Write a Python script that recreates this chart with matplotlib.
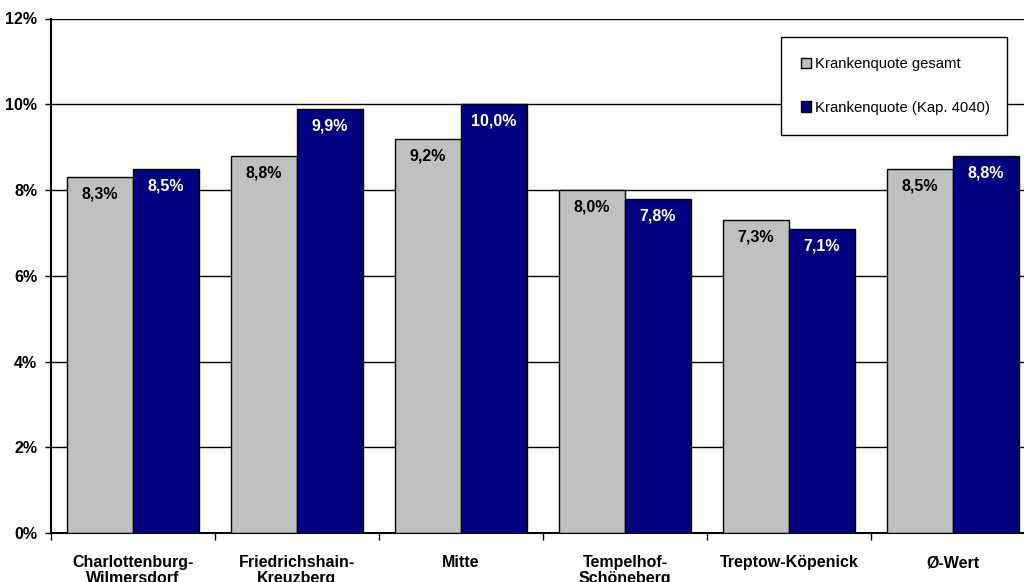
import matplotlib
matplotlib.use("Agg")
import matplotlib.pyplot as plt
from matplotlib.patches import Patch
from matplotlib.ticker import FixedLocator, FuncFormatter

plt.rcParams['font.family'] = ['Liberation Sans', 'DejaVu Sans']

categories = ["Charlottenburg-\nWilmersdorf", "Friedrichshain-\nKreuzberg", "Mitte",
              "Tempelhof-\nSchöneberg", "Treptow-Köpenick", "Ø-Wert"]
quote_gesamt = [8.3, 8.8, 9.2, 8.0, 7.3, 8.5]
quote_kap4040 = [8.5, 9.9, 10.0, 7.8, 7.1, 8.8]
series_names = ["Krankenquote gesamt", "Krankenquote (Kap. 4040)"]
y_ticks = [0, 2, 4, 6, 8, 10, 12]

GRAY = "#c0c0c0"
NAVY = "#000080"

W, H = 1024, 582
fig = plt.figure(figsize=(W / 100, H / 100), dpi=100)
left, right_px, top_px, bottom_px = 51, 1035, 18.5, 533
ax = fig.add_axes([left / W, (H - bottom_px) / H, (right_px - left) / W, (bottom_px - top_px) / H])

bw = 66 / 164
x = list(range(len(categories)))
b1 = ax.bar([i - bw / 2 for i in x], quote_gesamt, width=bw, color=GRAY,
            edgecolor="black", linewidth=1.0, zorder=3)
b2 = ax.bar([i + bw / 2 for i in x], quote_kap4040, width=bw, color=NAVY,
            edgecolor="black", linewidth=1.0, zorder=3)

def fmt(v):
    return f"{v:.1f}%".replace(".", ",")

for bars, vals, col in ((b1, quote_gesamt, "black"), (b2, quote_kap4040, "white")):
    for rect, v in zip(bars, vals):
        ax.annotate(fmt(v), (rect.get_x() + rect.get_width() / 2, v),
                    xytext=(0, -17), textcoords="offset pixels",
                    ha="center", va="center", fontsize=11.5, fontweight="bold",
                    color=col, zorder=4)

ax.set_xlim(-0.5, len(categories) - 0.5)
ax.set_ylim(0, 12)
ax.set_yticks(y_ticks)
ax.yaxis.set_major_formatter(FuncFormatter(lambda v, p: f"{v:.0f}%"))
ax.grid(axis="y", color="black", linewidth=1.0, zorder=0)
ax.set_axisbelow(True)

ax.set_xticks(x)
ax.set_xticklabels(categories, fontsize=11.5, fontweight="bold", linespacing=1.1)
ax.xaxis.set_minor_locator(FixedLocator([i - 0.5 for i in range(len(categories) + 1)]))
ax.tick_params(axis="x", which="major", length=0, pad=16)
ax.tick_params(axis="x", which="minor", length=5, width=1, color="black")
ax.tick_params(axis="y", length=4, width=1, pad=6, labelsize=11.5)
for lab in ax.get_yticklabels():
    lab.set_fontweight("bold")

for s in ("top", "right"):
    ax.spines[s].set_visible(False)
for s in ("left", "bottom"):
    ax.spines[s].set_linewidth(1.5)
    ax.spines[s].set_color("black")

handles = [Patch(facecolor=GRAY, edgecolor="black", linewidth=1.0),
           Patch(facecolor=NAVY, edgecolor="black", linewidth=1.0)]
lx0, ly0, lx1, ly1 = 781, 37, 1007, 127
leg = fig.legend(handles, series_names, loc="upper left",
                 bbox_to_anchor=(lx0 / W, (H - ly0) / H, (lx1 - lx0) / W, 0),
                 mode="expand", fontsize=10.7, frameon=True, fancybox=False,
                 edgecolor="black", framealpha=1, handlelength=0.7, handleheight=0.7,
                 handletextpad=0.25, labelspacing=2.0, borderpad=1.35, borderaxespad=0)
leg.get_frame().set_linewidth(1.0)

fig.savefig("out.png", dpi=100)
